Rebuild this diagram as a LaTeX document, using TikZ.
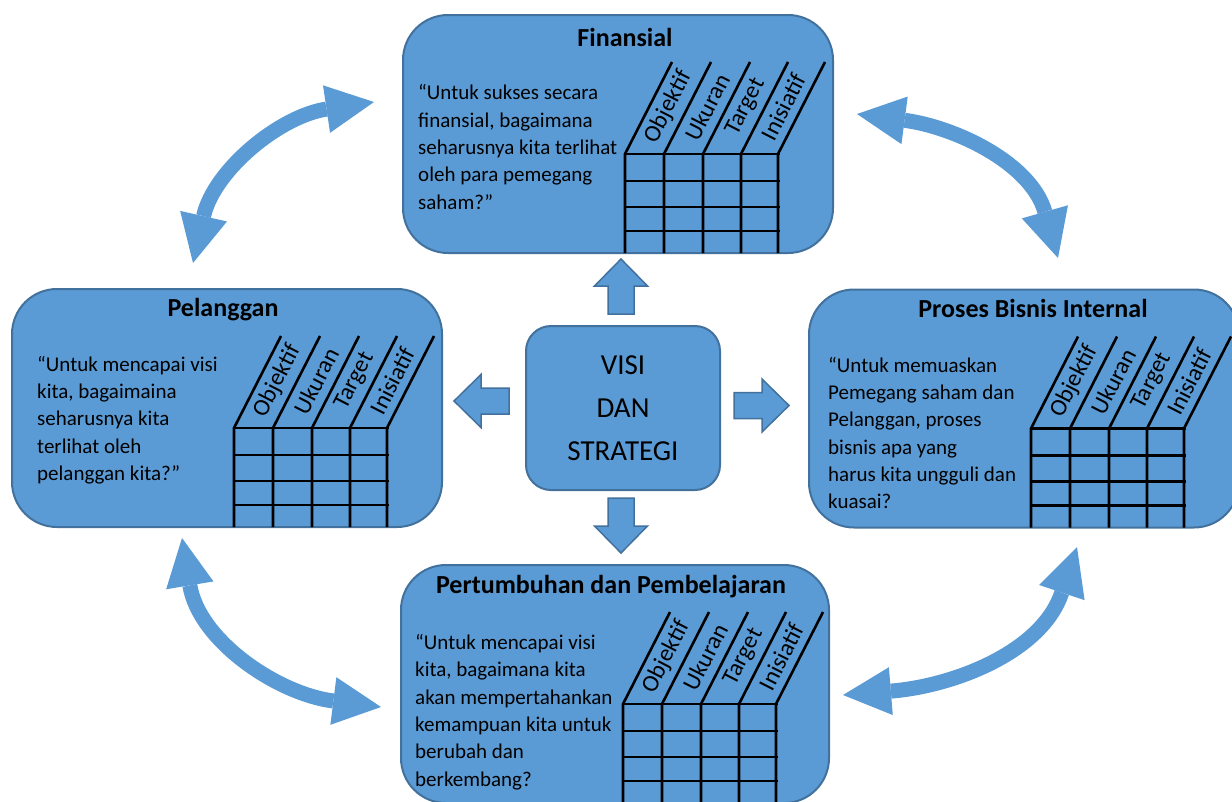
\documentclass[tikz,border=0pt]{standalone}
\usepackage{fontspec}
\setmainfont{Carlito}
\usetikzlibrary{arrows.meta,calc}

\definecolor{boxblue}{HTML}{5B9BD5}
\definecolor{edgeblue}{HTML}{41719C}

\tikzset{
  panel/.style={draw=edgeblue, line width=2pt, fill=boxblue, rounded corners=45pt,
    minimum width=430pt, minimum height=238pt, inner sep=0pt, outer sep=0pt},
  core/.style={draw=edgeblue, line width=2pt, fill=boxblue, rounded corners=25pt,
    minimum width=194pt, minimum height=164pt, align=center,
    font=\fontsize{29}{43}\selectfont},
  heading/.style={inner sep=0pt, font=\fontsize{26}{30}\selectfont\bfseries},
  question/.style={anchor=west, align=left, inner sep=0pt,
    font=\fontsize{21}{27.3}\selectfont},
  gridline/.style={line width=2.6pt, black},
  collabel/.style={rotate=62.9, inner sep=0pt, font=\fontsize{24}{24}\selectfont},
  arrowshape/.style={draw=edgeblue, line width=1.5pt, fill=boxblue, line join=miter},
  swing/.style={draw=boxblue, line width=15pt,
    {Triangle[length=48pt,width=48pt,line width=0pt]}-{Triangle[length=48pt,width=48pt,line width=0pt]}}
}

% table with slanted column heads, hung from a panel
\newcommand{\kpigrid}[1]{%
  \begin{scope}[shift={($(#1.north west)+(222,139)$)}]
    \foreach \cx in {0,39,78,116,153}
      \draw[gridline] (\cx,99) -- (\cx,0) -- ++(47,-92);
    \foreach \ry in {0,27,53,77}
      \draw[gridline] (0,\ry) -- (155,\ry);
    \foreach \lbl/\cx in {Objektif/19.5, Ukuran/58.5, Target/97, Inisiatif/134.5}
      \node[collabel] at (\cx+24,-47) {\lbl};
  \end{scope}}

% block arrow, base centre at (#1,#2), pointing at angle #3
\newcommand{\blockarrow}[3]{%
  \begin{scope}[shift={(#1,#2)}, rotate=#3]
    \draw[arrowshape] (0,-13) -- (28,-13) -- (28,-26.5) -- (55,0)
      -- (28,26.5) -- (28,13) -- (0,13) -- cycle;
  \end{scope}}

\begin{document}
\begin{tikzpicture}[x=1pt, y=-1pt]
\useasboundingbox (0,0) rectangle (1232,801);
\clip (0,0) rectangle (1232,801);

\node (fin) at (618, 134) [panel] {};
\node (cust) at (227, 408) [panel] {};
\node (proc) at (1024, 408.5) [panel] {};
\node (grow) at (615, 684) [panel, minimum width=428pt] {};
\node (vis) at (623, 408) [core] {VISI\\DAN\\STRATEGI};

\node (finT) at (625, 37) [heading] {Finansial};
\node (custT) at (223, 310) [heading] {Pelanggan};
\node (procT) at (1033, 308) [heading] {Proses Bisnis Internal};
\node (growT) at (611, 587) [heading] {Pertumbuhan dan Pembelajaran};

\node (finQ) at (418, 147) [question] {“Untuk sukses secara\\finansial, bagaimana\\seharusnya kita terlihat\\oleh para pemegang\\saham?”};
\node (custQ) at (37, 420) [question] {“Untuk mencapai visi\\kita, bagaimaina\\seharusnya kita\\terlihat oleh\\pelanggan kita?”};
\node (procQ) at (828, 433) [question] {“Untuk memuaskan\\Pemegang saham dan\\Pelanggan, proses\\bisnis apa yang\\harus kita ungguli dan\\kuasai?};
\node (growQ) at (415, 712) [question] {“Untuk mencapai visi\\kita, bagaimana kita\\akan mempertahankan\\kemampuan kita untuk\\berubah dan\\berkembang?};

\kpigrid{fin}
\kpigrid{cust}
\kpigrid{proc}
\kpigrid{grow}

\blockarrow{621}{314}{90}
\blockarrow{621}{498}{-90}
\blockarrow{734}{405.5}{0}
\blockarrow{509}{401}{180}

\coordinate (tlA) at (193, 263);
\coordinate (tlB) at (374, 102);
\coordinate (trA) at (857, 114);
\coordinate (trB) at (1058, 258);
\coordinate (blA) at (182, 538);
\coordinate (blB) at (381, 707);
\coordinate (brA) at (1077, 547);
\coordinate (brB) at (843, 695);

\draw[swing] (tlA) .. controls (214, 170) and (280, 116) .. (tlB);
\draw[swing] (trA) .. controls (955, 127) and (1031, 163) .. (trB);
\draw[swing] (blA) .. controls (199, 641) and (278, 694) .. (blB);
\draw[swing] (brA) .. controls (1042, 652) and (954, 686) .. (brB);
\end{tikzpicture}
\end{document}
